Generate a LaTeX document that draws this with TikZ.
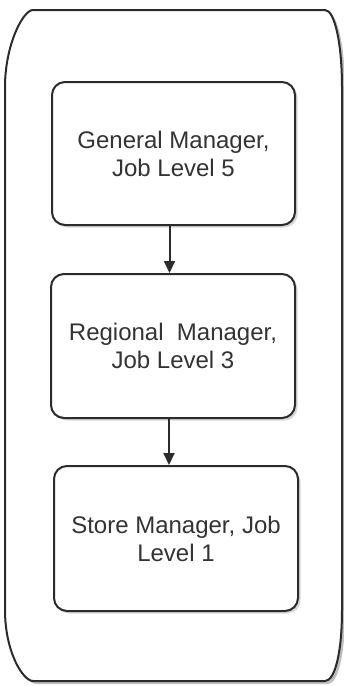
\documentclass[tikz,border=0pt]{standalone}
\usepackage{fontspec}
\setmainfont{Liberation Sans}
\usetikzlibrary{arrows.meta, positioning, shadows}
\definecolor{jobline}{HTML}{2B2B2B}
\definecolor{jobtext}{HTML}{333333}

\begin{document}
\begin{tikzpicture}[x=1pt, y=-1pt,
  every node/.style={font=\fontsize{24}{28}\selectfont},
  levelbox/.style={rectangle, rounded corners=13pt, draw=jobline, line width=2pt, fill=white, minimum width=243pt, minimum height=143pt, align=center, text=jobtext, drop shadow={fill=black!30, shadow xshift=2.5pt, shadow yshift=-2.5pt}},
  levelarrow/.style={-{Triangle[length=12pt, width=11pt]}, draw=jobline, line width=2pt},
]
\useasboundingbox (0,0) rectangle (344,686);

% Outer container
\draw[fill=black!25, draw=none] (36,13) -- (328,13) .. controls (338,13) and (345,48) .. (345,90) -- (345,613) .. controls (345,655) and (338,684) .. (328,684) -- (36,684) .. controls (26,684) and (8,655) .. (8,613) -- (8,90) .. controls (8,48) and (26,13) .. (36,13) -- cycle;
\draw[draw=jobline, line width=2pt, fill=white] (33,10) -- (325,10) .. controls (335,10) and (342,45) .. (342,87) -- (342,610) .. controls (342,652) and (335,681) .. (325,681) -- (33,681) .. controls (23,681) and (5,652) .. (5,610) -- (5,87) .. controls (5,45) and (23,10) .. (33,10) -- cycle;

% Job levels, top to bottom
\node[levelbox] (gm) at (173.5, 153.5) {General Manager,\\Job Level 5};
\node[levelbox, minimum width=244pt, minimum height=144pt] (rm) at (173, 346) {Regional~ Manager,\\Job Level 3};
\node[levelbox, minimum width=244pt, minimum height=145pt] (sm) at (176, 538.5) {Store Manager, Job\\Level 1};

% Arrows between levels
\draw[levelarrow] ([xshift=-4pt]gm.south) -- ([xshift=-4pt]gm.south |- rm.north);
\draw[levelarrow] ([xshift=-4pt]rm.south) -- ([xshift=-4pt]rm.south |- sm.north);

\end{tikzpicture}
\end{document}
